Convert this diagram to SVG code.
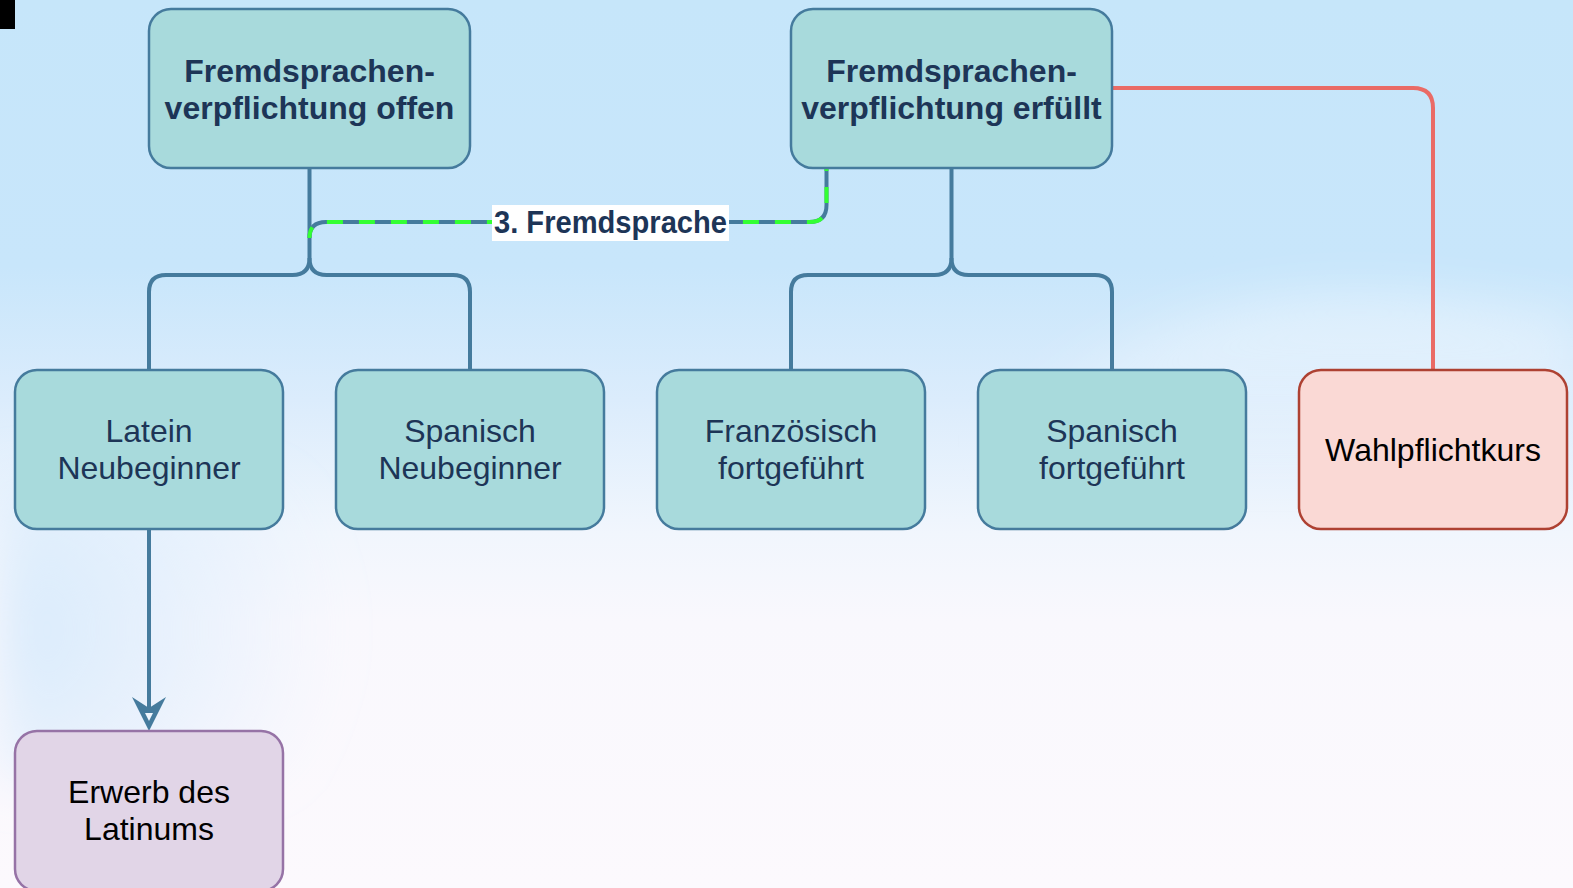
<svg xmlns="http://www.w3.org/2000/svg" width="1573" height="888" viewBox="0 0 1573 888">
<defs>
<linearGradient id="bg" x1="0" y1="0" x2="0" y2="1">
<stop offset="0" stop-color="#c6e6fa"/>
<stop offset="0.3" stop-color="#c8e6fb"/>
<stop offset="0.45" stop-color="#dbecfc"/>
<stop offset="0.6" stop-color="#f1f6fd"/>
<stop offset="0.7" stop-color="#f9f8fd"/>
<stop offset="1" stop-color="#fcf9fd"/>
</linearGradient>
<linearGradient id="hill" x1="0" y1="0" x2="0" y2="1">
<stop offset="0" stop-color="#ffffff" stop-opacity="0.4"/>
<stop offset="1" stop-color="#ffffff" stop-opacity="0"/>
</linearGradient>
<radialGradient id="leftblue" cx="0" cy="0.5" r="1">
<stop offset="0" stop-color="#d4e9fc" stop-opacity="0.9"/>
<stop offset="1" stop-color="#d4e9fc" stop-opacity="0"/>
</radialGradient>
<filter id="soft" x="-20%" y="-50%" width="140%" height="200%">
<feGaussianBlur stdDeviation="25"/>
</filter>
<style>
.n{fill:#a8dadc;stroke:#457b9d;stroke-width:2.5}
.t{font-family:"Liberation Sans",Arial,sans-serif;font-size:32px;fill:#1d3557;text-anchor:middle}
.b{font-weight:bold}
.c{fill:none;stroke:#457b9d;stroke-width:4}
</style>
</defs>
<rect x="0" y="0" width="1573" height="888" fill="url(#bg)"/>
<path d="M1000 430 C1150 300 1300 270 1573 320 L1573 480 L1000 480 Z" fill="url(#hill)" filter="url(#soft)"/>
<rect x="0" y="480" width="340" height="300" fill="url(#leftblue)" filter="url(#soft)"/>
<rect x="0" y="0" width="15" height="29" fill="#000000"/>
<g id="connectors">
<path class="c" d="M309.5 169 V258 Q309.5 275 292.5 275 H166 Q149 275 149 292 V369"/>
<path class="c" d="M309.5 258 Q309.5 275 326.5 275 H453 Q470 275 470 292 V369"/>
<path class="c" d="M951.5 169 V258 Q951.5 275 934.5 275 H808 Q791 275 791 292 V369"/>
<path class="c" d="M951.5 258 Q951.5 275 968.5 275 H1095 Q1112 275 1112 292 V369"/>
<path class="c" d="M826.5 169 V205 Q826.5 222 809.5 222 H326 Q309.5 222 309.5 238"/>
<path d="M826.5 169 V205 Q826.5 222 809.5 222 H326 Q309.5 222 309.5 238" fill="none" stroke="#33ff33" stroke-width="4" stroke-dasharray="16 16" stroke-dashoffset="-18"/>
<path d="M1112 88 H1413 Q1433 88 1433 108 V369" fill="none" stroke="#ea6b66" stroke-width="4"/>
<path class="c" d="M149 530 V710"/>
<path d="M149 731 L132 697 L149 708 L166 697 Z" fill="#457b9d"/>
<path d="M145 713 L153 713 L149 721 Z" fill="#eef5fd"/>
<rect x="492" y="205" width="237" height="36" fill="#ffffff"/>
<text x="610.5" y="233" class="t b" font-size="29" textLength="233" lengthAdjust="spacingAndGlyphs">3. Fremdsprache</text>
</g>
<g id="n_offen">
<rect class="n" x="149" y="9" width="321" height="159" rx="22"/>
<text class="t b" x="309.5" y="82">Fremdsprachen-</text>
<text class="t b" x="309.5" y="119">verpflichtung offen</text>
</g>
<g id="n_erfuellt">
<rect class="n" x="791" y="9" width="321" height="159" rx="22"/>
<text class="t b" x="951.5" y="82">Fremdsprachen-</text>
<text class="t b" x="951.5" y="119">verpflichtung erfüllt</text>
</g>
<g id="n_latein">
<rect class="n" x="15" y="370" width="268" height="159" rx="22"/>
<text class="t" x="149" y="442">Latein</text>
<text class="t" x="149" y="479">Neubeginner</text>
</g>
<g id="n_spanisch_neu">
<rect class="n" x="336" y="370" width="268" height="159" rx="22"/>
<text class="t" x="470" y="442">Spanisch</text>
<text class="t" x="470" y="479">Neubeginner</text>
</g>
<g id="n_franz">
<rect class="n" x="657" y="370" width="268" height="159" rx="22"/>
<text class="t" x="791" y="442">Französisch</text>
<text class="t" x="791" y="479">fortgeführt</text>
</g>
<g id="n_spanisch_fort">
<rect class="n" x="978" y="370" width="268" height="159" rx="22"/>
<text class="t" x="1112" y="442">Spanisch</text>
<text class="t" x="1112" y="479">fortgeführt</text>
</g>
<g id="n_wahl">
<rect x="1299" y="370" width="268" height="159" rx="22" fill="#fad9d5" stroke="#ae4132" stroke-width="2.5"/>
<text class="t" x="1433" y="461" style="fill:#000000">Wahlpflichtkurs</text>
</g>
<g id="n_latinum">
<rect x="15" y="731" width="268" height="160" rx="22" fill="#e1d5e7" stroke="#9673a6" stroke-width="2.5"/>
<text class="t" x="149" y="803" style="fill:#000000">Erwerb des</text>
<text class="t" x="149" y="840" style="fill:#000000">Latinums</text>
</g>
</svg>
